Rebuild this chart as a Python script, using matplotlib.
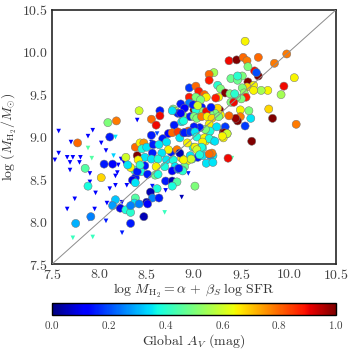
import matplotlib
matplotlib.use("Agg")
import matplotlib.pyplot as plt
import numpy as np

plt.rcParams['font.family'] = 'serif'
plt.rcParams['font.serif'] = ['cmr10']
plt.rcParams['mathtext.fontset'] = 'cm'
plt.rcParams['axes.formatter.use_mathtext'] = True

# detections: (predicted log MH2, measured log MH2, global Av)
circ_x = [7.77, 8.09, 8.18, 8.11, 7.85, 8.05, 8.14, 8.28, 8.02, 7.88, 7.75, 7.91, 8.17, 8.14, 8.22, 8.28,
          8.33, 8.33, 8.47, 8.38, 8.37, 8.33, 8.42, 8.64, 8.55, 8.64, 8.60, 8.78, 8.81, 8.40, 8.38, 8.43,
          8.47, 8.55, 8.79, 8.87, 8.73, 8.77, 8.83, 8.94, 8.85, 8.89, 9.00, 9.04, 9.08, 9.02, 8.83, 8.88,
          8.77, 8.96, 8.67, 8.71, 8.45, 8.50, 8.57, 8.63, 8.76, 8.73, 8.66, 8.56, 8.48, 8.55, 8.62, 8.71,
          8.78, 8.87, 8.93, 8.98, 9.04, 9.04, 8.99, 8.93, 8.82, 8.41, 8.60, 8.48, 8.80, 8.90, 8.69, 8.41,
          8.44, 8.51, 8.59, 8.62, 8.77, 8.83, 8.88, 8.70, 8.77, 8.82, 8.77, 8.61, 8.54, 8.56, 8.63, 8.50,
          8.42, 8.51, 9.01, 9.13, 9.36, 9.61, 9.54, 9.20, 9.12, 9.15, 9.31, 9.35, 9.31, 9.20, 9.17, 9.09,
          9.09, 9.19, 9.54, 9.37, 9.45, 9.52, 9.56, 9.68, 9.98, 9.85, 10.06, 9.95, 9.92, 9.78, 9.71, 9.79,
          10.08, 9.83, 9.60, 9.58, 9.49, 9.49, 9.46, 9.44, 9.64, 9.68, 9.66, 9.57, 9.51, 9.57, 9.63, 9.56,
          9.63, 9.51, 9.53, 9.55, 9.50, 9.45, 9.39, 9.46, 9.46, 9.21, 9.16, 9.16, 9.25, 9.28, 9.33, 9.38,
          9.43, 9.39, 9.42, 9.26, 9.23, 9.27, 9.25, 9.37, 9.28, 9.22, 9.17, 9.09, 9.02, 8.95, 9.02, 9.05,
          9.11, 8.95, 9.02, 9.13, 9.07, 8.95, 8.86, 8.90, 8.99, 9.04, 9.13, 9.18, 8.86, 8.89, 9.00, 9.03,
          9.08, 9.14, 9.19, 9.26, 9.16, 9.24, 9.33, 9.32, 9.35, 9.30, 9.17, 9.12, 9.06, 9.00, 8.94, 8.90,
          8.96, 9.01, 9.03, 9.11, 9.16, 9.22, 9.09, 9.08, 9.01, 9.03, 8.85, 8.96, 9.06, 9.16, 8.89, 9.20,
          8.38, 8.37, 8.33, 8.40, 8.30, 8.43, 8.35, 8.38, 8.88, 8.84, 8.97]
circ_y = [8.93, 9.17, 9.19, 9.00, 8.63, 8.68, 8.68, 8.76, 8.52, 8.42, 7.98, 8.06, 8.26, 8.19, 8.16, 8.14,
          8.11, 7.98, 8.06, 8.28, 8.22, 8.19, 9.31, 9.31, 9.21, 9.25, 9.14, 9.33, 9.30, 8.78, 8.88, 8.93,
          8.93, 9.02, 9.14, 9.18, 9.04, 9.05, 9.06, 9.05, 8.99, 9.05, 9.32, 9.39, 9.35, 9.28, 9.28, 9.26,
          9.31, 9.24, 8.98, 8.94, 8.86, 8.88, 8.91, 8.91, 8.82, 8.85, 8.81, 8.81, 8.76, 8.74, 8.74, 8.73,
          8.73, 8.75, 8.72, 8.74, 8.76, 8.87, 8.88, 8.93, 8.85, 8.73, 8.65, 8.66, 8.65, 8.65, 8.65, 8.61,
          8.59, 8.56, 8.55, 8.56, 8.60, 8.62, 8.61, 8.48, 8.48, 8.47, 8.42, 8.39, 8.35, 8.28, 8.28, 8.23,
          8.21, 8.21, 8.42, 8.69, 8.75, 8.95, 9.13, 8.96, 8.95, 9.04, 8.99, 9.04, 9.06, 8.78, 8.78, 8.78,
          8.87, 8.81, 10.13, 9.90, 9.91, 9.94, 9.90, 9.94, 9.98, 9.87, 9.70, 9.60, 9.50, 9.55, 9.55, 9.33,
          9.15, 9.22, 9.22, 9.31, 9.32, 9.24, 9.19, 9.22, 9.78, 9.72, 9.76, 9.83, 9.72, 9.65, 9.61, 9.59,
          9.55, 9.58, 9.52, 9.47, 9.45, 9.47, 9.69, 9.67, 9.72, 9.76, 9.74, 9.67, 9.61, 9.57, 9.52, 9.51,
          9.51, 9.41, 9.41, 9.47, 9.46, 9.32, 9.34, 9.25, 9.26, 9.28, 9.27, 9.30, 9.32, 9.58, 9.60, 9.54,
          9.50, 9.47, 9.47, 9.47, 9.44, 9.40, 9.39, 9.34, 9.38, 9.37, 9.30, 9.35, 9.28, 9.19, 9.24, 9.22,
          9.24, 9.24, 9.22, 9.24, 9.15, 9.12, 9.12, 9.05, 9.04, 9.01, 9.07, 9.09, 9.11, 9.12, 9.07, 9.05,
          9.06, 9.06, 9.00, 8.99, 8.98, 8.95, 8.94, 8.88, 8.88, 8.85, 8.81, 8.78, 8.79, 8.80, 8.73, 8.70,
          8.52, 8.61, 8.64, 8.59, 8.67, 8.67, 8.49, 8.46, 8.60, 8.63, 8.74]
circ_av = [0.80, 0.50, 0.78, 0.15, 0.45, 0.15, 0.12, 0.60, 0.68, 0.38, 0.30, 0.25, 0.32, 0.28, 0.10, 0.38,
           0.40, 0.15, 0.05, 0.45, 0.35, 0.25, 0.60, 0.15, 0.80, 0.90, 0.90, 0.50, 0.58, 1.00, 0.80, 0.65,
           0.75, 0.15, 0.15, 0.35, 0.12, 0.80, 0.85, 0.15, 0.35, 0.05, 1.00, 0.88, 0.15, 0.58, 0.15, 0.50,
           0.35, 0.15, 0.15, 0.35, 0.38, 0.35, 0.15, 0.35, 0.15, 0.65, 0.35, 0.15, 0.35, 0.35, 0.38, 0.35,
           0.38, 0.65, 0.65, 0.35, 0.15, 0.35, 0.38, 0.65, 0.78, 0.65, 0.65, 0.15, 0.35, 0.48, 0.38, 0.32,
           0.38, 0.15, 0.48, 0.38, 0.12, 0.25, 0.48, 0.15, 0.05, 0.45, 0.38, 0.38, 0.05, 0.25, 0.15, 0.05,
           0.25, 0.12, 0.50, 0.35, 0.90, 1.00, 0.18, 0.38, 0.65, 0.48, 0.65, 0.50, 1.00, 0.35, 0.28, 0.35,
           0.38, 0.78, 0.65, 0.90, 1.00, 0.80, 0.78, 0.80, 0.78, 0.78, 0.65, 0.90, 0.55, 0.65, 0.55, 0.68,
           0.78, 1.00, 0.35, 0.50, 0.65, 0.78, 1.00, 0.98, 0.90, 1.00, 0.20, 0.50, 0.50, 1.00, 0.65, 0.68,
           0.65, 0.50, 0.52, 0.88, 0.50, 0.48, 0.48, 0.48, 0.40, 0.55, 0.80, 0.88, 0.40, 0.50, 1.00, 0.50,
           0.40, 0.50, 0.90, 0.65, 0.88, 1.00, 0.68, 0.80, 0.65, 0.50, 0.50, 0.50, 0.38, 0.18, 0.80, 0.88,
           0.80, 0.88, 0.50, 0.65, 0.50, 0.25, 0.15, 0.12, 0.15, 0.60, 0.90, 0.15, 0.12, 0.38, 0.50, 0.50,
           0.78, 0.65, 0.68, 0.50, 0.65, 0.35, 0.18, 1.00, 0.60, 0.65, 0.38, 0.50, 0.15, 0.15, 0.82, 0.15,
           0.18, 0.35, 0.38, 0.65, 0.38, 0.35, 0.65, 0.38, 0.65, 0.60, 0.05, 0.35, 0.38, 0.80, 0.65, 0.35,
           0.15, 0.38, 0.65, 0.15, 0.35, 0.40, 0.10, 0.35, 0.40, 0.15, 0.60]

# upper limits
tri_x = [7.57, 8.40, 7.93, 7.88, 7.70, 7.57, 7.66, 7.72, 7.80, 7.53, 7.79, 7.69, 7.88, 7.92, 8.02, 8.07,
         8.17, 8.15, 7.69, 8.20, 8.55, 8.61, 7.90, 7.96, 7.74, 7.66, 7.89, 7.95, 7.72, 7.93, 8.07, 8.11,
         8.17, 8.19, 8.17, 8.29, 8.08, 8.13, 8.24, 8.23, 8.94, 8.87, 9.40, 8.56, 8.70, 8.69, 7.90, 8.26,
         8.24]
tri_y = [9.07, 9.20, 9.08, 9.01, 8.94, 8.81, 8.76, 8.76, 8.76, 8.73, 8.70, 8.70, 8.87, 8.75, 8.93, 8.84,
         9.00, 8.78, 8.61, 8.67, 8.94, 9.04, 8.47, 8.34, 8.27, 8.15, 8.03, 8.15, 7.81, 7.82, 8.01, 8.39,
         8.54, 8.58, 8.43, 8.43, 8.22, 8.21, 7.87, 8.74, 8.57, 8.29, 8.75, 8.42, 8.37, 8.11, 8.57, 8.70,
         8.23]
tri_av = [0.12, 0.12, 0.12, 0.12, 0.12, 0.12, 0.12, 0.12, 0.12, 0.12, 0.12, 0.12, 0.45, 0.45, 0.12, 0.12,
          0.35, 0.33, 0.12, 0.12, 0.15, 0.20, 0.12, 0.12, 0.12, 0.12, 0.12, 0.12, 0.42, 0.42, 0.15, 0.12,
          0.12, 0.12, 0.12, 0.12, 0.12, 0.12, 0.15, 0.12, 0.15, 0.05, 0.45, 0.15, 0.12, 0.42, 0.12, 0.10,
          0.12]

fig = plt.figure(figsize=(3.54, 3.54), dpi=100)
ax = fig.add_axes([0.147, 0.254, 0.802, 0.718])
cax = fig.add_axes([0.147, 0.110, 0.802, 0.034])

cmap = plt.get_cmap('jet')
ax.scatter(tri_x, tri_y, c=tri_av, cmap=cmap, vmin=0, vmax=1, marker='v', s=11, lw=0, zorder=2)
sc = ax.scatter(circ_x, circ_y, c=circ_av, cmap=cmap, vmin=0, vmax=1, marker='o', s=34,
                edgecolors='0.45', linewidths=0.35, zorder=3)
ax.plot([7.5, 10.5], [7.5, 10.5], color='0.55', lw=0.7, zorder=4)

ax.set_xlim(7.5, 10.5)
ax.set_ylim(7.5, 10.5)
ax.set_xticks(np.arange(7.5, 10.51, 0.5))
ax.set_yticks(np.arange(7.5, 10.51, 0.5))
ax.tick_params(direction='in', length=0, labelsize=10, pad=3, labelcolor='0.25')
for sp in ax.spines.values():
    sp.set_linewidth(1.2)
    sp.set_color('0.15')
ax.set_xlabel(r'$\log\,M_{\rm H_2} = \alpha\,+\,\beta_S\ \log\,{\rm SFR}$', fontsize=10,
              labelpad=0, color='0.2')
ax.set_ylabel(r'$\log\,(M_{\rm H_2}/M_{\odot})$', fontsize=10, labelpad=2, color='0.2')

cb = fig.colorbar(sc, cax=cax, orientation='horizontal')
cb.set_ticks([0.0, 0.2, 0.4, 0.6, 0.8, 1.0])
cb.ax.tick_params(labelsize=8, length=0, pad=3, labelcolor='0.25')
cb.set_label(r'Global $A_V$ (mag)', fontsize=10, labelpad=1, color='0.2')
cb.outline.set_linewidth(1.0)

fig.savefig('out.png', dpi=100)
